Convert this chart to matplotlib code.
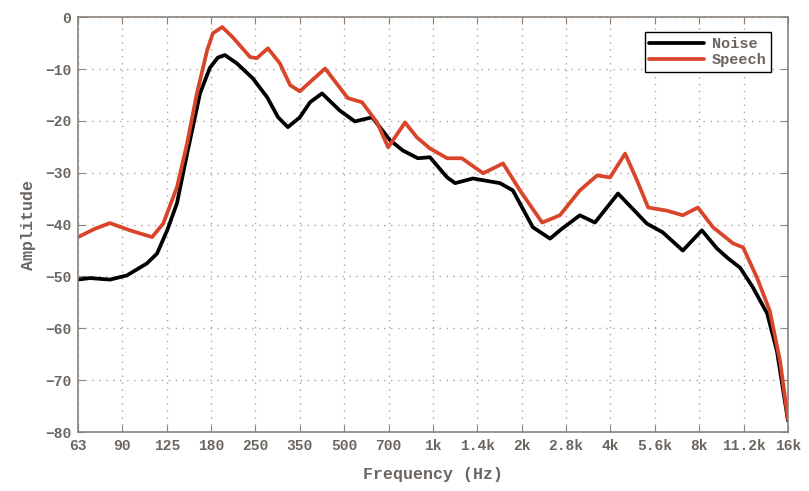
import numpy as np
from matplotlib import pyplot as plt

# band labels (half-octave steps, drawn equally spaced)
freq_labels = ["63", "90", "125", "180", "250", "350", "500", "700", "1k",
               "1.4k", "2k", "2.8k", "4k", "5.6k", "8k", "11.2k", "16k"]

# Noise curve: position in band units, amplitude
noise_pos = [0.00, 0.27, 0.72, 1.10, 1.55, 1.78, 2.01, 2.23, 2.46, 2.75,
             2.97, 3.15, 3.31, 3.58, 3.94, 4.26, 4.51, 4.73, 5.00, 5.23, 5.50,
             5.90, 6.24, 6.63, 7.03, 7.32, 7.66, 7.93, 8.32, 8.50, 8.90,
             9.51, 9.80, 10.25, 10.64, 10.86, 11.31, 11.65, 12.17, 12.82, 13.18,
             13.63, 14.06, 14.40, 14.65, 14.92, 15.21, 15.53, 15.75, 16.00]
noise_amp = [-50.6, -50.3, -50.6, -49.8, -47.5, -45.6, -41.1, -35.9, -26.3, -14.7,
             -9.8, -7.8, -7.3, -8.9, -11.8, -15.4, -19.3, -21.2, -19.3, -16.4, -14.7,
             -18.0, -20.1, -19.3, -23.7, -25.7, -27.2, -27.0, -30.9, -32.0, -31.1,
             -32.0, -33.4, -40.5, -42.7, -41.1, -38.2, -39.6, -34.0, -39.8, -41.5,
             -45.0, -41.1, -44.6, -46.5, -48.3, -52.1, -57.1, -64.3, -77.8]

# Speech curve
speech_pos = [0.00, 0.38, 0.72, 1.17, 1.67, 1.92, 2.23, 2.46, 2.68, 2.91,
              3.04, 3.25, 3.49, 3.88, 4.03, 4.28, 4.55, 4.78, 5.00, 5.23,
              5.57, 6.08, 6.40, 6.74, 6.99, 7.37, 7.64, 7.93, 8.32, 8.65,
              9.13, 9.58, 9.96, 10.46, 10.86, 11.31, 11.70, 11.99, 12.33, 12.60,
              12.85, 13.27, 13.63, 13.97, 14.31, 14.76, 14.99, 15.30, 15.59, 15.82,
              16.00]
speech_amp = [-42.4, -40.8, -39.7, -41.1, -42.4, -39.8, -32.8, -24.3, -14.7, -6.4,
              -3.1, -1.9, -3.9, -7.7, -7.9, -6.0, -8.9, -13.1, -14.3, -12.5,
              -9.9, -15.6, -16.4, -20.3, -25.1, -20.3, -23.2, -25.3, -27.2, -27.2,
              -30.1, -28.2, -33.4, -39.6, -38.2, -33.4, -30.5, -30.9, -26.3, -31.5,
              -36.7, -37.3, -38.2, -36.7, -40.5, -43.6, -44.4, -50.2, -56.6, -66.2,
              -77.5]

txt_color = "#6b6560"
mono = "Liberation Mono"

fig = plt.figure(figsize=(8.09, 4.91), dpi=100)
ax = fig.add_axes([0.0964, 0.120, 0.8776, 0.845])

ax.plot(noise_pos, noise_amp, color="black", lw=2.7, solid_joinstyle="round",
        solid_capstyle="round", label="Noise")
ax.plot(speech_pos, speech_amp, color="#d9452a", lw=2.7, solid_joinstyle="round",
        solid_capstyle="round", label="Speech")

ax.set_xlim(0, 16)
ax.set_ylim(-80, 0)
ax.set_xticks(np.arange(len(freq_labels)))
ax.set_xticklabels(freq_labels)
ax.set_yticks(np.arange(-80, 1, 10))

ax.grid(True, linestyle=(0, (1, 4)), color="#b0a498", lw=1.0)
ax.tick_params(direction="in", top=True, right=True, length=5, color="#8a827c",
               labelcolor=txt_color, labelsize=10.5, pad=5)
for lab in ax.get_xticklabels() + ax.get_yticklabels():
    lab.set_family(mono)
    lab.set_weight("bold")
for s in ax.spines.values():
    s.set_color("#8a827c")
    s.set_linewidth(1.2)

ax.set_xlabel("Frequency (Hz)", family=mono, weight="bold", fontsize=12,
              color=txt_color, labelpad=10)
ax.set_ylabel("Amplitude", family=mono, weight="bold", fontsize=12,
              color=txt_color, labelpad=6)

leg = ax.legend(loc="upper right", bbox_to_anchor=(0.987, 0.982), fancybox=False,
                framealpha=1, edgecolor="black", handlelength=3.6, borderpad=0.3,
                labelspacing=0.15, handletextpad=0.5,
                prop={"family": mono, "weight": "bold", "size": 11})
leg.get_frame().set_linewidth(1.0)
for t in leg.get_texts():
    t.set_color(txt_color)

plt.savefig("out.png", dpi=100)
